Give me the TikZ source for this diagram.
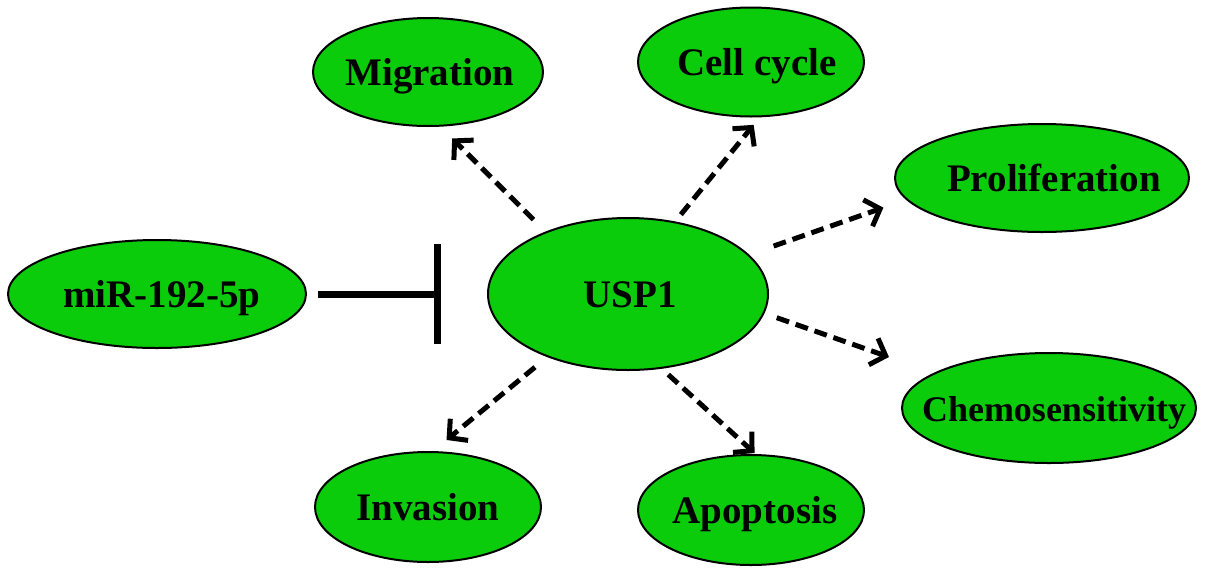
\documentclass[tikz,border=0pt]{standalone}
\usepackage{fontspec}
\setmainfont{Liberation Serif}
\usetikzlibrary{shapes.geometric,arrows.meta}
\definecolor{cellgreen}{RGB}{10,204,10}
\newcommand\lbl[2]{\makebox[0pt]{\hspace*{#1}#2}}
\begin{document}
\begin{tikzpicture}[x=1pt,y=-1pt,
  oval/.style={ellipse,draw=black,line width=2pt,fill=cellgreen,inner sep=0pt,outer sep=0pt,
    text height=34pt,text depth=8pt,font=\fontsize{39}{39}\selectfont\bfseries},
  effect/.style={line width=5pt,dash pattern=on 13pt off 7pt,
    -{Straight Barb[length=13pt,width=28pt,line width=5pt]}},
  inhib/.style={line width=7pt,-{Bar[width=100pt,line width=7pt]}}]
\useasboundingbox (0,0) rectangle (1205,574);
\node[oval,minimum width=230pt,minimum height=108pt] (mig) at (428,72) {\lbl{4pt}{Migration}};
\node[oval,minimum width=226pt,minimum height=109pt] (cc) at (751,62) {\lbl{12pt}{Cell cycle}};
\node[oval,minimum width=294pt,minimum height=108pt] (prolif) at (1042,178) {\lbl{24pt}{Proliferation}};
\node[oval,minimum width=298pt,minimum height=108pt] (mir) at (157,294) {\lbl{10pt}{miR-192-5p}};
\node[oval,minimum width=280pt,minimum height=152pt] (usp) at (628,294) {\lbl{4pt}{USP1}};
\node[oval,minimum width=294pt,minimum height=110pt,font=\fontsize{36}{36}\selectfont\bfseries] (chemo) at (1049,408) {\lbl{10pt}{Chemosensitivity}};
\node[oval,minimum width=226pt,minimum height=110pt] (inv) at (428,507) {\lbl{0pt}{Invasion}};
\node[oval,minimum width=226pt,minimum height=110pt] (apo) at (751,510) {\lbl{8pt}{Apoptosis}};
\draw[effect,shorten <=18pt,shorten >=18pt] (usp.143.7) -- (mig.-78);
\draw[effect,shorten <=10pt,shorten >=11pt] (usp.57) -- (cc.-80.5);
\draw[effect,shorten <=27pt,shorten >=25pt] (usp.18.8) -- (prolif.189.7);
\draw[effect,shorten <=14pt,shorten >=49pt] (usp.-8.4) -- (chemo.163.6);
\draw[effect,shorten <=10pt,shorten >=3pt] (usp.-66) -- (apo.84.1);
\draw[effect,shorten <=17pt,shorten >=19pt] (usp.218.1) -- (inv.86.9);
\draw[inhib,shorten <=12pt,shorten >=47pt] (mir.east) -- (usp.west);
\end{tikzpicture}
\end{document}
